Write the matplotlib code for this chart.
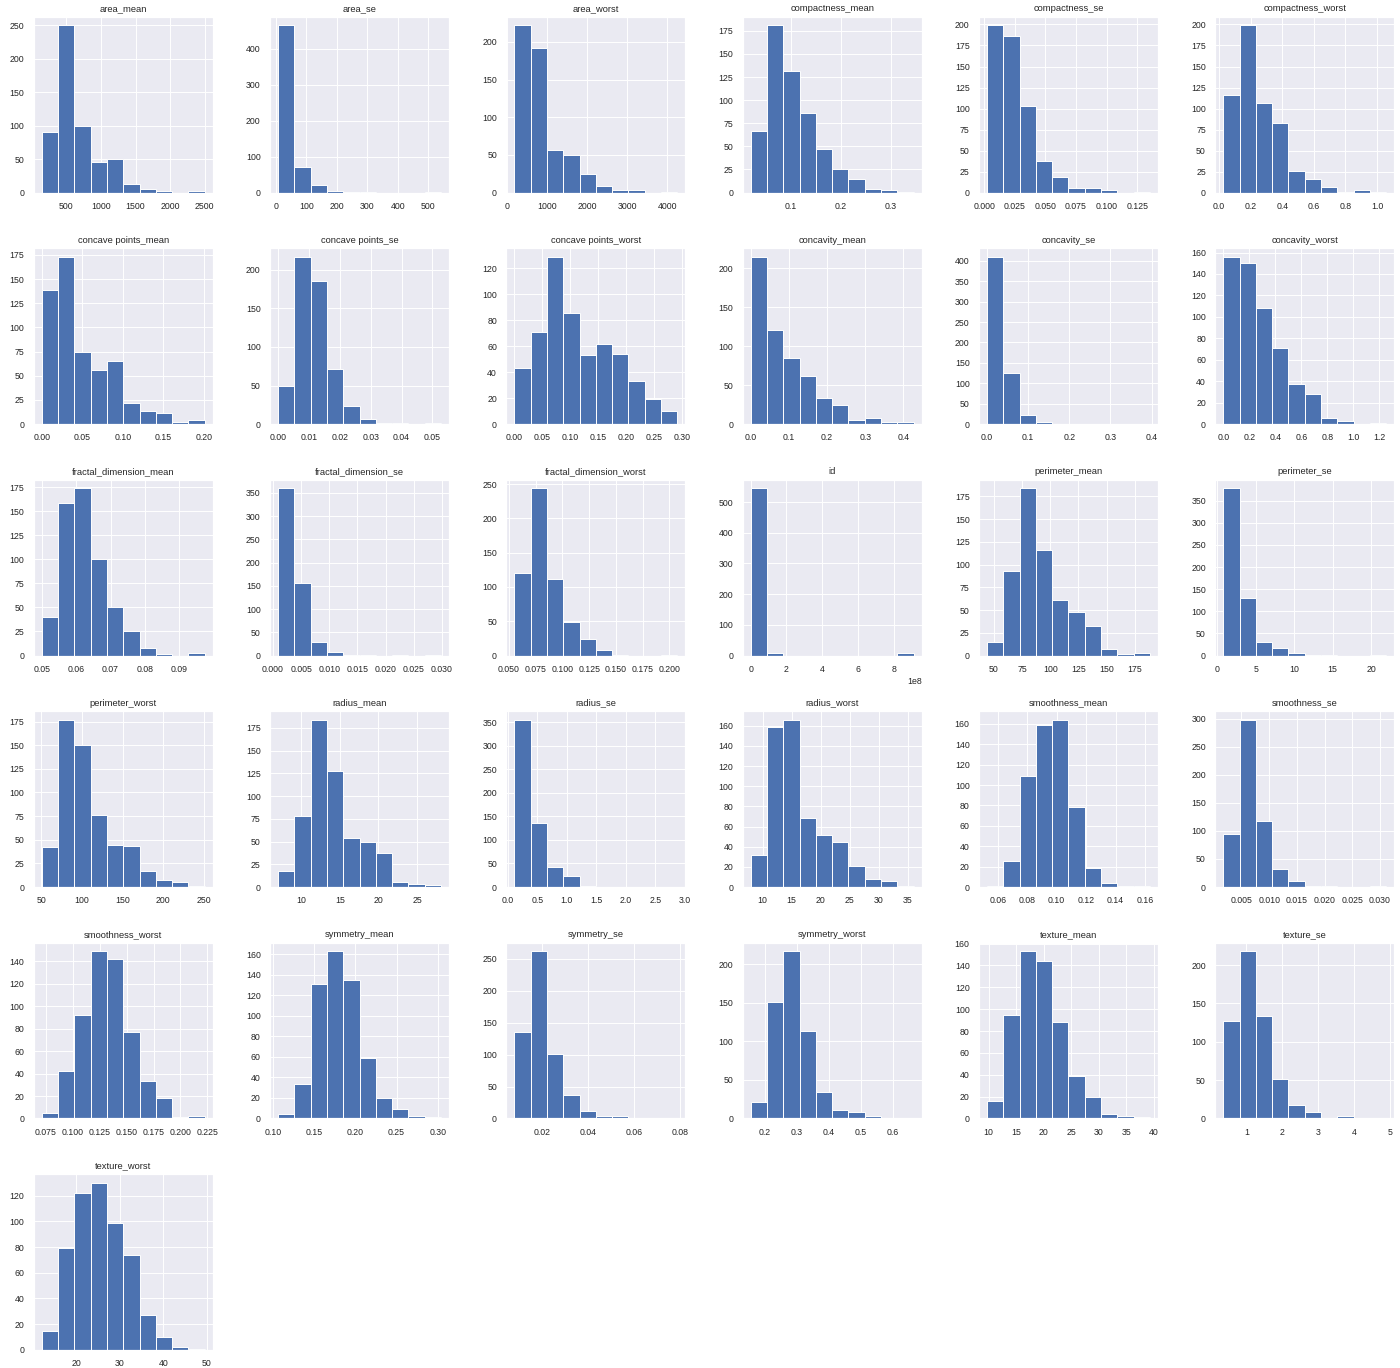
import numpy as np
import matplotlib
matplotlib.use('Agg')
import matplotlib.pyplot as plt
from matplotlib.ticker import MaxNLocator
import seaborn as sns

# column order as in the grid (alphabetical)
columns = ['area_mean', 'area_se', 'area_worst',
           'compactness_mean', 'compactness_se', 'compactness_worst',
           'concave points_mean', 'concave points_se', 'concave points_worst',
           'concavity_mean', 'concavity_se', 'concavity_worst',
           'fractal_dimension_mean', 'fractal_dimension_se', 'fractal_dimension_worst',
           'id', 'perimeter_mean', 'perimeter_se',
           'perimeter_worst', 'radius_mean', 'radius_se',
           'radius_worst', 'smoothness_mean', 'smoothness_se',
           'smoothness_worst', 'symmetry_mean', 'symmetry_se',
           'symmetry_worst', 'texture_mean', 'texture_se',
           'texture_worst']

# min / max of each column (10 equal bins between them)
col_min = [143.5, 6.802, 185.2,
           0.01938, 0.002252, 0.02729,
           0.0, 0.0, 0.0,
           0.0, 0.0, 0.0,
           0.04996, 0.0008948, 0.05504,
           8670, 43.79, 0.757,
           50.41, 6.981, 0.1115,
           7.93, 0.05263, 0.001713,
           0.07117, 0.106, 0.007882,
           0.1565, 9.71, 0.3602,
           12.02]
col_max = [2501, 542.2, 4254,
           0.3454, 0.1354, 1.058,
           0.2012, 0.05279, 0.291,
           0.4268, 0.396, 1.252,
           0.09744, 0.02984, 0.2075,
           911320502, 188.5, 21.98,
           251.2, 28.11, 2.873,
           36.04, 0.1634, 0.03113,
           0.2226, 0.304, 0.07895,
           0.6638, 39.28, 4.885,
           49.54]

# bin counts
area_mean = [91, 250, 100, 46, 50, 13, 5, 3, 0, 2]
area_se = [465, 72, 22, 4, 2, 1, 0, 0, 0, 1]
area_worst = [222, 192, 57, 50, 25, 9, 4, 4, 0, 1]
compactness_mean = [67, 181, 132, 86, 47, 25, 15, 4, 3, 1]
compactness_se = [199, 186, 103, 38, 18, 6, 6, 3, 0, 1]
compactness_worst = [116, 199, 107, 83, 26, 16, 7, 1, 3, 1]
concave_points_mean = [139, 173, 75, 56, 65, 22, 14, 11, 2, 4]
concave_points_se = [50, 217, 185, 72, 23, 7, 2, 1, 0, 1]
concave_points_worst = [43, 71, 129, 86, 53, 62, 54, 33, 19, 10]
concavity_mean = [215, 121, 85, 62, 33, 24, 5, 8, 3, 2]
concavity_se = [410, 126, 22, 4, 0, 0, 0, 0, 0, 1]
concavity_worst = [156, 150, 108, 71, 37, 28, 6, 3, 0, 1]
fractal_dimension_mean = [40, 159, 174, 100, 50, 25, 8, 2, 0, 3]
fractal_dimension_se = [360, 157, 30, 8, 2, 1, 0, 1, 0, 1]
fractal_dimension_worst = [121, 244, 111, 49, 24, 8, 1, 0, 0, 1]
id_ = [545, 9, 0, 0, 0, 0, 0, 0, 0, 9]
perimeter_mean = [15, 93, 184, 116, 61, 48, 33, 7, 2, 3]
perimeter_se = [378, 130, 30, 17, 5, 2, 1, 0, 0, 1]
perimeter_worst = [42, 177, 150, 76, 44, 43, 17, 7, 5, 1]
radius_mean = [18, 78, 184, 128, 54, 49, 37, 6, 3, 2]
radius_se = [355, 136, 43, 24, 3, 1, 1, 0, 0, 1]
radius_worst = [32, 159, 166, 68, 52, 45, 21, 8, 6, 1]
smoothness_mean = [1, 25, 109, 159, 164, 78, 19, 4, 1, 1]
smoothness_se = [95, 298, 118, 32, 11, 2, 1, 0, 0, 1]
smoothness_worst = [5, 42, 92, 149, 142, 77, 33, 18, 1, 2]
symmetry_mean = [4, 34, 131, 163, 135, 59, 20, 9, 2, 1]
symmetry_se = [136, 262, 101, 36, 12, 4, 4, 1, 0, 1]
symmetry_worst = [22, 151, 217, 113, 34, 11, 8, 3, 1, 1]
texture_mean = [16, 95, 153, 144, 88, 39, 20, 4, 2, 1]
texture_se = [127, 218, 134, 51, 17, 8, 1, 3, 0, 1]
texture_worst = [15, 79, 122, 130, 99, 74, 27, 10, 2, 1]

counts = [area_mean, area_se, area_worst,
          compactness_mean, compactness_se, compactness_worst,
          concave_points_mean, concave_points_se, concave_points_worst,
          concavity_mean, concavity_se, concavity_worst,
          fractal_dimension_mean, fractal_dimension_se, fractal_dimension_worst,
          id_, perimeter_mean, perimeter_se,
          perimeter_worst, radius_mean, radius_se,
          radius_worst, smoothness_mean, smoothness_se,
          smoothness_worst, symmetry_mean, symmetry_se,
          symmetry_worst, texture_mean, texture_se,
          texture_worst]


def main():
    sns.set()
    plt.rcParams['font.family'] = ['Liberation Sans', 'DejaVu Sans']
    plt.rcParams['xtick.labelsize'] = 9
    plt.rcParams['ytick.labelsize'] = 9
    plt.rcParams['axes.titlesize'] = 9.6
    plt.rcParams['font.size'] = 9

    fig, axes = plt.subplots(6, 6, figsize=(20, 19.543), dpi=70)
    fig.subplots_adjust(left=0.024, right=0.996, top=0.9876, bottom=0.0132,
                        wspace=0.318, hspace=0.318)
    axes = axes.ravel()

    steps = [1, 2, 2.5, 5, 10]
    for i, name in enumerate(columns):
        ax = axes[i]
        edges = np.linspace(col_min[i], col_max[i], 11)
        # one weighted value per bin -> same bars as the raw histogram
        ax.hist(edges[:-1], bins=edges, weights=counts[i], color='#4C72B0')
        ax.set_title(name)
        ax.grid(True)
        # tick density of the original
        ax.xaxis.set_major_locator(MaxNLocator(nbins=7, steps=steps))
        ax.yaxis.set_major_locator(MaxNLocator(nbins=9, steps=steps))

    # unused cells of the 6x6 layout
    for ax in axes[len(columns):]:
        ax.set_visible(False)

    fig.savefig('out.png', dpi=70)


if __name__ == '__main__':
    main()
